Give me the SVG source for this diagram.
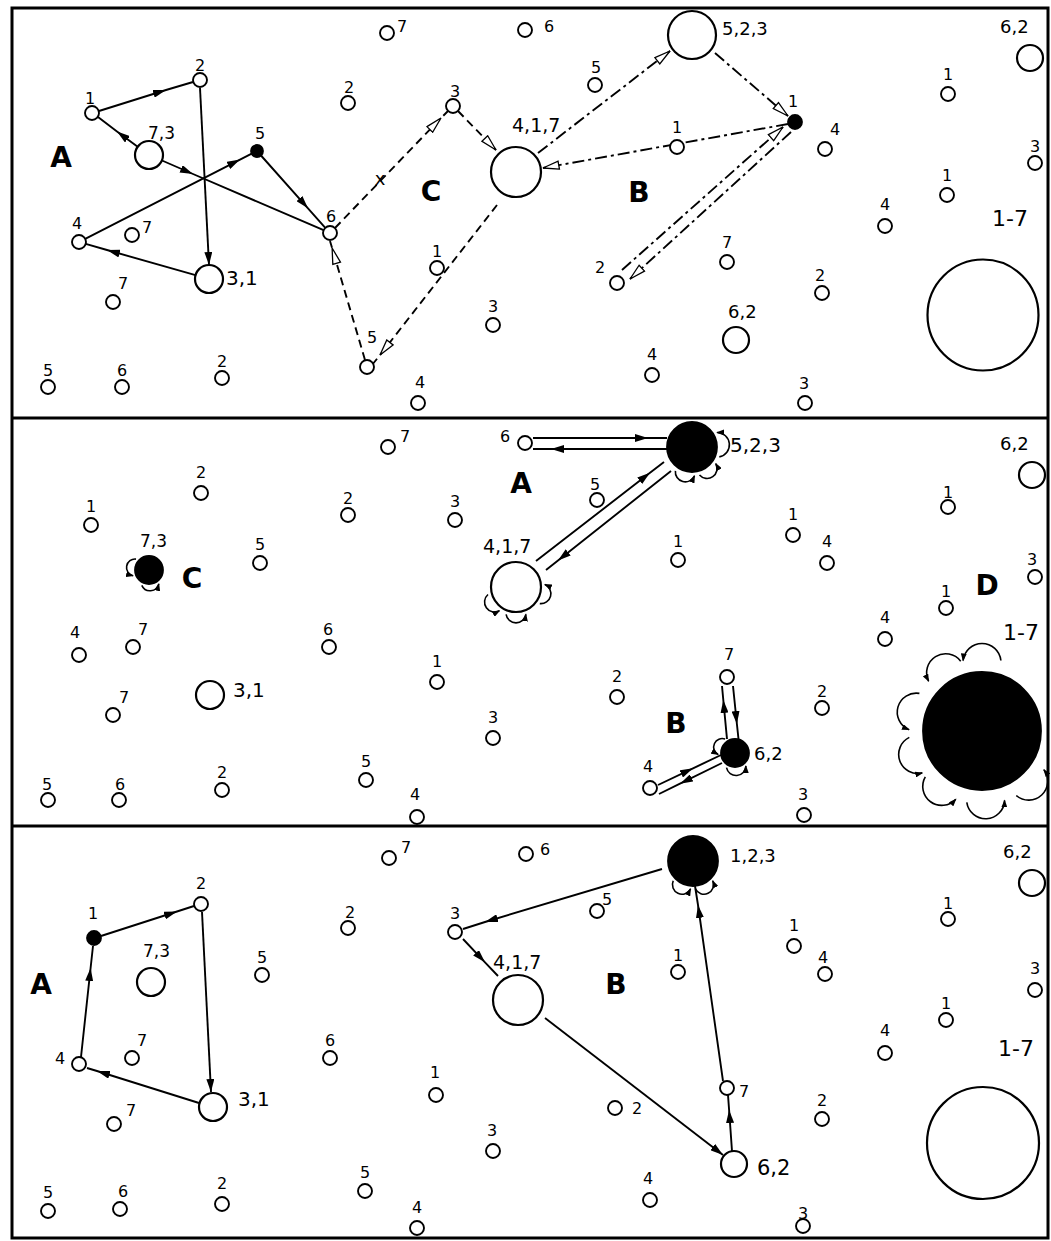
<svg xmlns="http://www.w3.org/2000/svg" width="1051" height="1241" viewBox="0 0 1051 1241">
<style>
.s{fill:#fff;stroke:#000;stroke-width:1.9}
.b{fill:#fff;stroke:#000;stroke-width:2.2}
.f{fill:#000;stroke:#000;stroke-width:1.8}
text{font-family:"DejaVu Sans","Liberation Sans",sans-serif;fill:#000}
.n{font-size:16px;text-anchor:middle}
.r{text-anchor:start}
.m{font-size:18px}
.g{font-size:22px}
.L{font-size:28px;font-weight:bold;text-anchor:middle}
.c{fill:none;stroke:#000;stroke-width:1.9}
.dsh{stroke-dasharray:8 5}
.dd{stroke-dasharray:12 4 3 4}
.lp{fill:none;stroke:#000;stroke-width:1.6}
</style>
<defs>
<marker id="af" viewBox="0 0 13 8" refX="13" refY="4" markerWidth="13" markerHeight="8" markerUnits="userSpaceOnUse" orient="auto"><path d="M0,0 L13,4 L0,8 z" fill="#000"/></marker>
<marker id="ah" viewBox="-1 -1 18 10" refX="16" refY="4" markerWidth="18" markerHeight="10" markerUnits="userSpaceOnUse" orient="auto"><path d="M0,0 L16,4 L0,8 z" fill="#fff" stroke="#000" stroke-width="1.3"/></marker>
<marker id="as" viewBox="0 0 8 6" refX="7" refY="3" markerWidth="8" markerHeight="6" markerUnits="userSpaceOnUse" orient="auto"><path d="M0,0 L8,3 L0,6 z" fill="#000"/></marker>
</defs>
<rect x="0" y="0" width="1051" height="1241" fill="#fff"/>
<g id="frame" fill="none" stroke="#000" stroke-width="3">
<rect x="12" y="8" width="1036" height="1230"/>
<line x1="12" y1="418" x2="1048" y2="418"/>
<line x1="12" y1="826" x2="1048" y2="826"/>
</g>

<!-- ===== TOP PANEL ===== -->
<g id="top-connectors">
<path class="c" marker-mid="url(#af)" d="M99,111 L166,90 L193,82"/>
<path class="c" marker-mid="url(#af)" d="M138,147 L117,131.5 L98,117"/>
<path class="c" marker-end="url(#af)" d="M200,88 L209,265"/>
<path class="c" marker-mid="url(#af)" d="M162,160.5 L193,174 L323.6,230.2"/>
<path class="c" marker-mid="url(#af)" d="M85.2,238.8 L240,159.6 L251.7,153.7"/>
<path class="c" marker-mid="url(#af)" d="M261,155.5 L308,208.3 L325.3,227.8"/>
<path class="c" marker-mid="url(#af)" d="M195.5,275.2 L107,250 L85.7,243.9"/>
<path class="c dsh" marker-mid="url(#ah)" d="M335,228 L441,118 L448,111"/>
<path class="c dsh" marker-end="url(#ah)" d="M458,111 L496,150"/>
<path class="c dsh" marker-mid="url(#ah)" d="M497,205 L380,355 L372,365"/>
<path class="c dsh" marker-mid="url(#ah)" d="M365,360 L332.1,248 L330,241"/>
<path class="c dd" marker-end="url(#ah)" d="M538,153 L670,51"/>
<path class="c dd" marker-end="url(#ah)" d="M715,53 L788,116"/>
<path class="c dd" marker-end="url(#ah)" d="M788,124 L543,168"/>
<path class="c dd" marker-end="url(#ah)" d="M622,270 L783,127"/>
<path class="c dd" marker-end="url(#ah)" d="M791,132 L630,279"/>
<text class="n" style="font-size:18px" x="380" y="185">x</text>
</g>
<g id="top-regions">
<text class="L" x="61" y="167">A</text>
<text class="L" x="431" y="201">C</text>
<text class="L" x="639" y="202">B</text>
</g>
<g id="top-nodes">
<g id="t1"><circle class="s" cx="92" cy="113" r="7"/><text class="n" x="90" y="104">1</text></g>
<g id="t2"><circle class="s" cx="200" cy="80" r="7"/><text class="n" x="200" y="71">2</text></g>
<g id="t73"><circle class="b" cx="149" cy="155" r="14"/><text class="n r" style="font-size:17px" x="148" y="139">7,3</text></g>
<g id="t5f"><circle class="f" cx="257" cy="151" r="6"/><text class="n" x="260" y="139">5</text></g>
<g id="t6"><circle class="s" cx="330" cy="233" r="7"/><text class="n" x="331" y="222">6</text></g>
<g id="t4"><circle class="s" cx="79" cy="242" r="7"/><text class="n" x="77" y="229">4</text></g>
<g id="t7a"><circle class="s" cx="132" cy="235" r="7"/><text class="n r" x="142" y="233">7</text></g>
<g id="t31"><circle class="b" cx="209" cy="279" r="14"/><text class="n r" style="font-size:20px" x="226" y="285">3,1</text></g>
<g id="t7b"><circle class="s" cx="113" cy="302" r="7"/><text class="n r" x="118" y="289">7</text></g>
<g id="t5b"><circle class="s" cx="48" cy="387" r="7"/><text class="n" x="48" y="376">5</text></g>
<g id="t6b"><circle class="s" cx="122" cy="387" r="7"/><text class="n" x="122" y="376">6</text></g>
<g id="t2b"><circle class="s" cx="222" cy="378" r="7"/><text class="n" x="222" y="367">2</text></g>
<g id="t2c"><circle class="s" cx="348" cy="103" r="7"/><text class="n" x="349" y="93">2</text></g>
<g id="t7c"><circle class="s" cx="387" cy="33" r="7"/><text class="n r" x="397" y="32">7</text></g>
<g id="t6c"><circle class="s" cx="525" cy="30" r="7"/><text class="n r" x="544" y="32">6</text></g>
<g id="t3c"><circle class="s" cx="453" cy="106" r="7"/><text class="n" x="455" y="97">3</text></g>
<g id="t417"><circle class="b" cx="516" cy="172" r="25"/><text class="n r" style="font-size:19px" x="512" y="132">4,1,7</text></g>
<g id="t5d"><circle class="s" cx="595" cy="85" r="7"/><text class="n" x="596" y="73">5</text></g>
<g id="t1d"><circle class="s" cx="677" cy="147" r="7"/><text class="n" x="677" y="133">1</text></g>
<g id="t1c"><circle class="s" cx="437" cy="268" r="7"/><text class="n" x="437" y="257">1</text></g>
<g id="t5e"><circle class="s" cx="367" cy="367" r="7"/><text class="n" x="372" y="343">5</text></g>
<g id="t3d"><circle class="s" cx="493" cy="325" r="7"/><text class="n" x="493" y="312">3</text></g>
<g id="t2d"><circle class="s" cx="617" cy="283" r="7"/><text class="n" x="600" y="273">2</text></g>
<g id="t4d"><circle class="s" cx="652" cy="375" r="7"/><text class="n" x="652" y="360">4</text></g>
<g id="t4e"><circle class="s" cx="418" cy="403" r="7"/><text class="n" x="420" y="388">4</text></g>
<g id="t523"><circle class="b" cx="692" cy="35" r="24"/><text class="n r m" x="722" y="35">5,2,3</text></g>
<g id="t1f"><circle class="f" cx="795" cy="122" r="7"/><text class="n" x="793" y="107">1</text></g>
<g id="t4f"><circle class="s" cx="825" cy="149" r="7"/><text class="n" x="835" y="135">4</text></g>
<g id="t7f"><circle class="s" cx="727" cy="262" r="7"/><text class="n" x="727" y="248">7</text></g>
<g id="t62m"><circle class="b" cx="736" cy="340" r="13"/><text class="n r m" x="728" y="318">6,2</text></g>
<g id="t2f"><circle class="s" cx="822" cy="293" r="7"/><text class="n" x="820" y="281">2</text></g>
<g id="t3f"><circle class="s" cx="805" cy="403" r="7"/><text class="n" x="804" y="389">3</text></g>
<g id="t1g"><circle class="s" cx="948" cy="94" r="7"/><text class="n" x="948" y="80">1</text></g>
<g id="t1h"><circle class="s" cx="947" cy="195" r="7"/><text class="n" x="947" y="181">1</text></g>
<g id="t4g"><circle class="s" cx="885" cy="226" r="7"/><text class="n" x="885" y="210">4</text></g>
<g id="t3g"><circle class="s" cx="1035" cy="163" r="7"/><text class="n" x="1035" y="152">3</text></g>
<g id="t62r"><circle class="b" cx="1030" cy="58" r="13"/><text class="n r m" x="1000" y="33">6,2</text></g>
<g id="t17"><circle class="b" cx="983" cy="315" r="55.5"/><text class="n r g" x="992" y="226">1-7</text></g>
</g>

<!-- ===== MIDDLE PANEL ===== -->
<g id="mid-connectors">
<path class="c" marker-mid="url(#af)" d="M533,438 L648,438 L667,438"/>
<path class="c" marker-mid="url(#af)" d="M668,449 L551,449 L533,449"/>
<path class="c" marker-mid="url(#af)" d="M536,561 L650,472.8 L664,462"/>
<path class="c" marker-mid="url(#af)" d="M671,471 L558,560.5 L546,570"/>
<path class="c" marker-mid="url(#af)" d="M727,739 L723.3,700 L722,686"/>
<path class="c" marker-mid="url(#af)" d="M733,686 L736.9,724 L738.5,739"/>
<path class="c" marker-mid="url(#af)" d="M658,785 L693,768.3 L721,755"/>
<path class="c" marker-mid="url(#af)" d="M722,763 L680,783.7 L659,794"/>
<path class="lp" marker-end="url(#as)" d="M136,559.1 A8.5,8.5 0 0 0 133,575.8"/>
<path class="lp" marker-end="url(#as)" d="M141.8,585.4 A9,9 0 0 0 158.8,583.9"/>
<path class="lp" marker-end="url(#as)" d="M488,594.5 A10,10 0 0 0 499.4,610.8"/>
<path class="lp" marker-end="url(#as)" d="M506.1,614.3 A10,10 0 0 0 525.9,614.3"/>
<path class="lp" marker-end="url(#as)" d="M539.8,603.6 A10,10 0 0 0 544.9,584.5"/>
<path class="lp" marker-end="url(#as)" d="M675.4,470.8 A10,10 0 0 0 694.5,475.9"/>
<path class="lp" marker-end="url(#as)" d="M699.5,475 A10,10 0 0 0 715.8,463.6"/>
<path class="lp" marker-end="url(#as)" d="M719.3,456.9 A12.3,12.3 0 0 0 717.1,432.5"/>
<path class="lp" marker-end="url(#as)" d="M725.2,739.1 A8.5,8.5 0 0 0 718.1,754.5"/>
<path class="lp" marker-end="url(#as)" d="M726.5,767.7 A9.8,9.8 0 0 0 745.9,766"/>
<path class="lp" marker-end="url(#as)" d="M1000.9,660.5 A19,19 0 0 0 963.1,660.5"/>
<path class="lp" marker-end="url(#as)" d="M960.7,661.2 A19,19 0 0 0 928.6,681.2"/>
<path class="lp" marker-end="url(#as)" d="M919.4,693.4 A19,19 0 0 0 909,729.7"/>
<path class="lp" marker-end="url(#as)" d="M909.3,737.4 A19,19 0 0 0 922.2,772.9"/>
<path class="lp" marker-end="url(#as)" d="M925.3,776.9 A19,19 0 0 0 955.8,799.2"/>
<path class="lp" marker-end="url(#as)" d="M966.8,802.4 A19,19 0 0 0 1004.6,800.4"/>
<path class="lp" marker-end="url(#as)" d="M1016.3,795.5 A19,19 0 0 0 1043.9,769.7"/>
</g>
<g id="mid-regions">
<text class="L" x="521" y="493">A</text>
<text class="L" x="192" y="588">C</text>
<text class="L" x="676" y="733">B</text>
<text class="L" x="987" y="595">D</text>
</g>
<g id="mid-nodes">
<g id="m1"><circle class="s" cx="91" cy="525" r="7"/><text class="n" x="91" y="512">1</text></g>
<g id="m2"><circle class="s" cx="201" cy="493" r="7"/><text class="n" x="201" y="478">2</text></g>
<g id="m2b"><circle class="s" cx="348" cy="515" r="7"/><text class="n" x="348" y="504">2</text></g>
<g id="m73"><circle class="f" cx="149" cy="570" r="14"/><text class="n r" style="font-size:17px" x="140" y="547">7,3</text></g>
<g id="m5"><circle class="s" cx="260" cy="563" r="7"/><text class="n" x="260" y="550">5</text></g>
<g id="m4"><circle class="s" cx="79" cy="655" r="7"/><text class="n" x="75" y="638">4</text></g>
<g id="m7a"><circle class="s" cx="133" cy="647" r="7"/><text class="n" x="143" y="635">7</text></g>
<g id="m6"><circle class="s" cx="329" cy="647" r="7"/><text class="n" x="328" y="635">6</text></g>
<g id="m31"><circle class="b" cx="210" cy="695" r="14"/><text class="n r" style="font-size:20px" x="233" y="697">3,1</text></g>
<g id="m7b"><circle class="s" cx="113" cy="715" r="7"/><text class="n" x="124" y="703">7</text></g>
<g id="m5b"><circle class="s" cx="48" cy="800" r="7"/><text class="n" x="47" y="790">5</text></g>
<g id="m6b"><circle class="s" cx="119" cy="800" r="7"/><text class="n" x="120" y="790">6</text></g>
<g id="m2c"><circle class="s" cx="222" cy="790" r="7"/><text class="n" x="222" y="778">2</text></g>
<g id="m7c"><circle class="s" cx="388" cy="447" r="7"/><text class="n r" x="400" y="442">7</text></g>
<g id="m6c"><circle class="s" cx="525" cy="443" r="7"/><text class="n r" x="500" y="442">6</text></g>
<g id="m3"><circle class="s" cx="455" cy="520" r="7"/><text class="n" x="455" y="507">3</text></g>
<g id="m417"><circle class="b" cx="516" cy="587" r="25"/><text class="n r" style="font-size:19px" x="483" y="553">4,1,7</text></g>
<g id="m5c"><circle class="s" cx="597" cy="500" r="7"/><text class="n" x="595" y="490">5</text></g>
<g id="m1b"><circle class="s" cx="678" cy="560" r="7"/><text class="n" x="678" y="547">1</text></g>
<g id="m1c"><circle class="s" cx="437" cy="682" r="7"/><text class="n" x="437" y="667">1</text></g>
<g id="m2d"><circle class="s" cx="617" cy="697" r="7"/><text class="n" x="617" y="682">2</text></g>
<g id="m3b"><circle class="s" cx="493" cy="738" r="7"/><text class="n" x="493" y="723">3</text></g>
<g id="m5d"><circle class="s" cx="366" cy="780" r="7"/><text class="n" x="366" y="767">5</text></g>
<g id="m4b"><circle class="s" cx="417" cy="817" r="7"/><text class="n" x="415" y="800">4</text></g>
<g id="m4c"><circle class="s" cx="650" cy="788" r="7"/><text class="n" x="648" y="772">4</text></g>
<g id="m523"><circle class="f" cx="692" cy="447" r="25"/><text class="n r" style="font-size:20px" x="730" y="452">5,2,3</text></g>
<g id="m62r"><circle class="b" cx="1032" cy="475" r="13"/><text class="n r m" x="1000" y="450">6,2</text></g>
<g id="m1d"><circle class="s" cx="793" cy="535" r="7"/><text class="n" x="793" y="520">1</text></g>
<g id="m4d"><circle class="s" cx="827" cy="563" r="7"/><text class="n" x="827" y="547">4</text></g>
<g id="m1e"><circle class="s" cx="948" cy="507" r="7"/><text class="n" x="948" y="498">1</text></g>
<g id="m3c"><circle class="s" cx="1035" cy="577" r="7"/><text class="n" x="1032" y="565">3</text></g>
<g id="m1f"><circle class="s" cx="946" cy="608" r="7"/><text class="n" x="946" y="597">1</text></g>
<g id="m4e"><circle class="s" cx="885" cy="639" r="7"/><text class="n" x="885" y="623">4</text></g>
<g id="m17"><circle class="f" cx="982" cy="731" r="59"/><text class="n r g" x="1003" y="640">1-7</text></g>
<g id="m7d"><circle class="s" cx="727" cy="677" r="7"/><text class="n" x="729" y="660">7</text></g>
<g id="m62f"><circle class="f" cx="735" cy="753" r="14"/><text class="n r m" x="754" y="760">6,2</text></g>
<g id="m2e"><circle class="s" cx="822" cy="708" r="7"/><text class="n" x="822" y="697">2</text></g>
<g id="m3d"><circle class="s" cx="804" cy="815" r="7"/><text class="n" x="803" y="800">3</text></g>
</g>

<!-- ===== BOTTOM PANEL ===== -->
<g id="bot-connectors">
<path class="c" marker-mid="url(#af)" d="M101,936 L177,911.5 L194,906"/>
<path class="c" marker-end="url(#af)" d="M202,912 L211,1092"/>
<path class="c" marker-mid="url(#af)" d="M199,1103 L97,1071 L87,1068"/>
<path class="c" marker-mid="url(#af)" d="M81,1057 L90.6,968 L93,946"/>
<path class="c" marker-mid="url(#af)" d="M662,869 L485,922 L463,929"/>
<path class="c" marker-mid="url(#af)" d="M463,939 L485,962.3 L498,976"/>
<path class="c" marker-end="url(#af)" d="M545,1018 L723,1155"/>
<path class="c" marker-mid="url(#af)" d="M732,1151 L729.1,1110 L728,1095"/>
<path class="c" marker-mid="url(#af)" d="M723,1081 L698,905 L695,886"/>
<path class="lp" marker-end="url(#as)" d="M673.2,880.8 A9.6,9.6 0 0 0 690.6,888.9"/>
<path class="lp" marker-end="url(#as)" d="M695.4,888.9 A9.6,9.6 0 0 0 712.8,880.8"/>
</g>
<g id="bot-regions">
<text class="L" x="41" y="994">A</text>
<text class="L" x="616" y="994">B</text>
</g>
<g id="bot-nodes">
<g id="b1f"><circle class="f" cx="94" cy="938" r="7"/><text class="n" x="93" y="919">1</text></g>
<g id="b2"><circle class="s" cx="201" cy="904" r="7"/><text class="n" x="201" y="889">2</text></g>
<g id="b73"><circle class="b" cx="151" cy="982" r="14"/><text class="n r" style="font-size:17px" x="143" y="957">7,3</text></g>
<g id="b5"><circle class="s" cx="262" cy="975" r="7"/><text class="n" x="262" y="963">5</text></g>
<g id="b4"><circle class="s" cx="79" cy="1064" r="7"/><text class="n" x="60" y="1064">4</text></g>
<g id="b7a"><circle class="s" cx="132" cy="1058" r="7"/><text class="n" x="142" y="1046">7</text></g>
<g id="b6"><circle class="s" cx="330" cy="1058" r="7"/><text class="n" x="330" y="1046">6</text></g>
<g id="b31"><circle class="b" cx="213" cy="1107" r="14"/><text class="n r" style="font-size:20px" x="238" y="1106">3,1</text></g>
<g id="b7b"><circle class="s" cx="114" cy="1124" r="7"/><text class="n" x="131" y="1116">7</text></g>
<g id="b5b"><circle class="s" cx="48" cy="1211" r="7"/><text class="n" x="48" y="1198">5</text></g>
<g id="b6b"><circle class="s" cx="120" cy="1209" r="7"/><text class="n" x="123" y="1197">6</text></g>
<g id="b2b"><circle class="s" cx="222" cy="1204" r="7"/><text class="n" x="222" y="1189">2</text></g>
<g id="b2c"><circle class="s" cx="348" cy="928" r="7"/><text class="n" x="350" y="918">2</text></g>
<g id="b7c"><circle class="s" cx="389" cy="858" r="7"/><text class="n r" x="401" y="853">7</text></g>
<g id="b6c"><circle class="s" cx="526" cy="854" r="7"/><text class="n r" x="540" y="855">6</text></g>
<g id="b3"><circle class="s" cx="455" cy="932" r="7"/><text class="n" x="455" y="919">3</text></g>
<g id="b5c"><circle class="s" cx="597" cy="911" r="7"/><text class="n r" x="602" y="905">5</text></g>
<g id="b417"><circle class="b" cx="518" cy="1000" r="25"/><text class="n r" style="font-size:19px" x="493" y="969">4,1,7</text></g>
<g id="b1b"><circle class="s" cx="678" cy="972" r="7"/><text class="n" x="678" y="961">1</text></g>
<g id="b1c"><circle class="s" cx="436" cy="1095" r="7"/><text class="n" x="435" y="1078">1</text></g>
<g id="b2d"><circle class="s" cx="615" cy="1108" r="7"/><text class="n r" x="632" y="1114">2</text></g>
<g id="b3b"><circle class="s" cx="493" cy="1151" r="7"/><text class="n" x="492" y="1136">3</text></g>
<g id="b5d"><circle class="s" cx="365" cy="1191" r="7"/><text class="n" x="365" y="1178">5</text></g>
<g id="b4b"><circle class="s" cx="417" cy="1228" r="7"/><text class="n" x="417" y="1213">4</text></g>
<g id="b4c"><circle class="s" cx="650" cy="1200" r="7"/><text class="n" x="648" y="1184">4</text></g>
<g id="b123"><circle class="f" cx="693" cy="861" r="25"/><text class="n r m" x="730" y="862">1,2,3</text></g>
<g id="b7d"><circle class="s" cx="727" cy="1088" r="7"/><text class="n r" x="739" y="1097">7</text></g>
<g id="b62"><circle class="b" cx="734" cy="1164" r="13"/><text class="n r" style="font-size:21px" x="757" y="1175">6,2</text></g>
<g id="b1d"><circle class="s" cx="794" cy="946" r="7"/><text class="n" x="794" y="931">1</text></g>
<g id="b4d"><circle class="s" cx="825" cy="974" r="7"/><text class="n" x="823" y="963">4</text></g>
<g id="b1e"><circle class="s" cx="948" cy="919" r="7"/><text class="n" x="948" y="909">1</text></g>
<g id="b3c"><circle class="s" cx="1035" cy="990" r="7"/><text class="n" x="1035" y="974">3</text></g>
<g id="b1g"><circle class="s" cx="946" cy="1020" r="7"/><text class="n" x="946" y="1009">1</text></g>
<g id="b4e"><circle class="s" cx="885" cy="1053" r="7"/><text class="n" x="885" y="1036">4</text></g>
<g id="b2e"><circle class="s" cx="822" cy="1119" r="7"/><text class="n" x="822" y="1106">2</text></g>
<g id="b3d"><circle class="s" cx="803" cy="1226" r="7"/><text class="n" x="803" y="1219">3</text></g>
<g id="b62r"><circle class="b" cx="1032" cy="883" r="13"/><text class="n r m" x="1003" y="858">6,2</text></g>
<g id="b17"><circle class="b" cx="983" cy="1143" r="56"/><text class="n r g" x="998" y="1056">1-7</text></g>
</g>
</svg>
